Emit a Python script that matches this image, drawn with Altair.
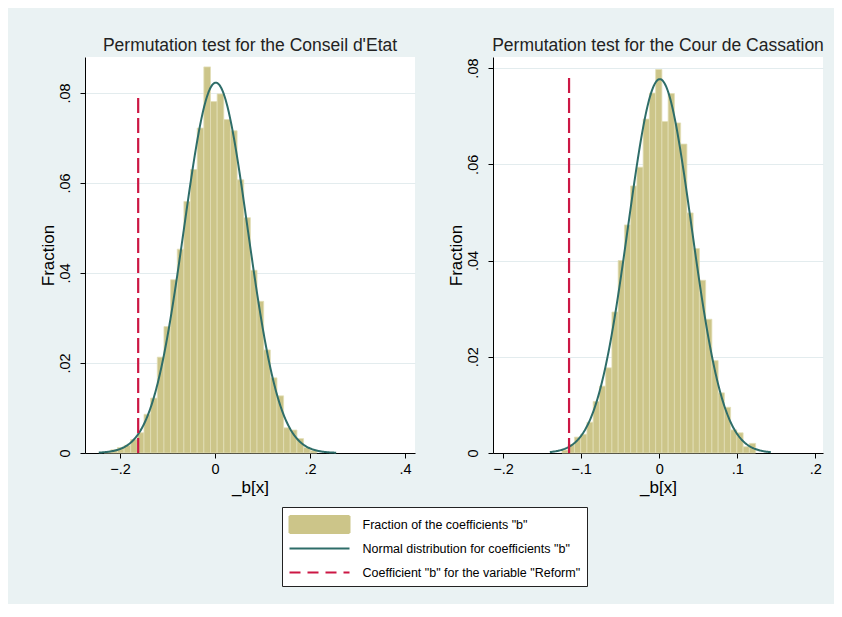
import altair as alt
import pandas as pd

FONT = "Liberation Sans"

# ---------------- data ----------------
LBL_BAR = 'Fraction of the coefficients "b"'
LBL_CURVE = 'Normal distribution for coefficients "b"'
LBL_REF = 'Coefficient "b" for the variable "Reform"'

# Left panel: Conseil d'Etat
ce_title = "Permutation test for the Conseil d'Etat"
ce_bin_start = -0.2337
ce_bin_width = 0.0140
ce_fraction = [0.0002, 0.0007, 0.0012, 0.0017, 0.0030, 0.0045, 0.0086, 0.0122,
               0.0213, 0.0281, 0.0385, 0.0453, 0.0559, 0.0630, 0.0722, 0.0858,
               0.0781, 0.0798, 0.0741, 0.0716, 0.0607, 0.0523, 0.0406, 0.0337,
               0.0229, 0.0167, 0.0127, 0.0056, 0.0051, 0.0032, 0.0012, 0.0005]
ce_normal_mean = 0.0015
ce_normal_sd = 0.067
ce_normal_peak = 0.0823
ce_curve_range = [-0.245, 0.255]
ce_reform_b = -0.162
ce_reform_top = 0.080
ce_x_domain = [-0.274, 0.421]
ce_y_domain = [0, 0.088]
ce_x_ticks = [-0.2, 0, 0.2, 0.4]

# Right panel: Cour de Cassation
cc_title = "Permutation test for the Cour de Cassation"
cc_bin_start = -0.1245
cc_bin_width = 0.0080
cc_fraction = [0.0006, 0.0018, 0.0033, 0.0039, 0.0064, 0.0107, 0.0139, 0.0177,
               0.0293, 0.0400, 0.0474, 0.0555, 0.0594, 0.0694, 0.0748, 0.0797,
               0.0689, 0.0747, 0.0686, 0.0642, 0.0499, 0.0425, 0.0359, 0.0278,
               0.0192, 0.0125, 0.0095, 0.0048, 0.0042, 0.0013, 0.0020]
cc_normal_mean = 0.0008
cc_normal_sd = 0.0406
cc_normal_peak = 0.0777
cc_curve_range = [-0.140, 0.1435]
cc_reform_b = -0.1154
cc_reform_top = 0.079
cc_x_domain = [-0.2128, 0.2098]
cc_y_domain = [0, 0.0823]
cc_x_ticks = [-0.2, -0.1, 0, 0.1, 0.2]

y_ticks = [0, 0.02, 0.04, 0.06, 0.08]

# ---------------- styling ----------------
BAR_COLOR = "#CCC589"
BAR_EDGE = "#E2DEB6"
CURVE_COLOR = "#2E6D69"
REF_COLOR = "#CC1744"
BG = "#EAF2F3"

PAD_L, PAD_T, PAD_R, PAD_B = 31, 28, 10, 17

color_scale = alt.Scale(domain=[LBL_BAR, LBL_CURVE, LBL_REF],
                        range=[BAR_COLOR, CURVE_COLOR, REF_COLOR])

legend = alt.Legend(
    title=None, orient="none", legendX=197, legendY=450,
    direction="vertical", fillColor="white", strokeColor="#222222",
    padding=6.5,
    symbolType=alt.ExprRef(expr="datum.index === 0 ? 'M-3,-0.85H3V0.85H-3Z' : 'M-3,0H3'"),
    symbolSize=400,
    symbolFillColor=alt.ExprRef(expr="datum.index === 0 ? scale('color', datum.value) : 'transparent'"),
    symbolStrokeColor=alt.ExprRef(expr="scale('color', datum.value)"),
    symbolDash=alt.ExprRef(expr="datum.index === 2 ? [11, 7] : [1, 0]"),
    symbolStrokeWidth=2, symbolOpacity=1,
    symbolOffset=20, labelOffset=32, labelFont=FONT, labelFontSize=12.5,
    labelColor="black", labelLimit=400, rowPadding=0, gridAlign="all",
)

label_expr = "replace(format(datum.value, '.2~f'), '0.', '.')"


def panel(title, start, width, fractions, mean, sd, peak, crange,
          ref_b, ref_top, xdom, ydom, xticks):
    n = len(fractions)
    bars_df = pd.DataFrame({
        "start": [start + i * width for i in range(n)],
        "end": [start + (i + 1) * width for i in range(n)],
        "fraction": fractions,
        "base": [0.0] * n,
        "series": [LBL_BAR] * n,
    })
    ref_df = pd.DataFrame({"b": [ref_b], "y0": [0.0], "y1": [ref_top],
                           "series": [LBL_REF]})

    xs = alt.Scale(domain=xdom, nice=False, zero=False)
    ys = alt.Scale(domain=ydom, nice=False, zero=False)
    xaxis = alt.Axis(values=xticks, labelExpr=label_expr, grid=False,
                     tickSize=5, tickColor="black", domainColor="black",
                     labelFont=FONT, labelFontSize=14.5, labelColor="black",
                     labelPadding=4, labelFlush=False, labelOverlap=False,
                     titleFont=FONT, titleFontSize=17, titleColor="black",
                     titleFontWeight="normal", titlePadding=4)
    yaxis = alt.Axis(values=y_ticks, labelExpr=label_expr, grid=True,
                     gridColor="#E3ECEE", gridWidth=1,
                     tickSize=5, tickColor="black", domainColor="black",
                     labelFont=FONT, labelFontSize=14.5, labelColor="black",
                     labelAngle=270, labelPadding=7.5, labelFlush=False,
                     labelOverlap=False,
                     titleFont=FONT, titleFontSize=17, titleColor="black",
                     titleFontWeight="normal", titlePadding=0)

    bars = alt.Chart(bars_df).mark_bar(stroke=BAR_EDGE, strokeWidth=0.8).encode(
        x=alt.X("start:Q", scale=xs, axis=xaxis, title="_b[x]"),
        x2="end:Q",
        y=alt.Y("fraction:Q", scale=ys, axis=yaxis, title="Fraction"),
        y2="base:Q",
        color=alt.Color("series:N", scale=color_scale, legend=legend),
    )

    curve = alt.Chart(alt.sequence(crange[0], crange[1] + 1e-9, 0.001, as_="b")
                      ).transform_calculate(
        fraction=f"{peak} * exp(-pow(datum.b - ({mean}), 2) / (2 * {sd} * {sd}))",
        series=f"'{LBL_CURVE}'",
    ).mark_line(strokeWidth=2).encode(
        x=alt.X("b:Q", scale=xs),
        y=alt.Y("fraction:Q", scale=ys),
        color=alt.Color("series:N", scale=color_scale, legend=legend),
    )

    ref = alt.Chart(ref_df).mark_rule(strokeWidth=2.2, strokeDash=[15, 5]).encode(
        x=alt.X("b:Q", scale=xs),
        y=alt.Y("y0:Q", scale=ys),
        y2="y1:Q",
        color=alt.Color("series:N", scale=color_scale, legend=legend),
    )

    return alt.layer(bars, curve, ref).properties(
        width=330, height=396,
        title=alt.TitleParams(text=title, font=FONT, fontSize=17.5,
                              fontWeight="normal", color="#222222",
                              anchor="middle", offset=3),
    )


left = panel(ce_title, ce_bin_start, ce_bin_width, ce_fraction, ce_normal_mean,
             ce_normal_sd, ce_normal_peak, ce_curve_range, ce_reform_b,
             ce_reform_top, ce_x_domain, ce_y_domain, ce_x_ticks)
right = panel(cc_title, cc_bin_start, cc_bin_width, cc_fraction, cc_normal_mean,
              cc_normal_sd, cc_normal_peak, cc_curve_range, cc_reform_b,
              cc_reform_top, cc_x_domain, cc_y_domain, cc_x_ticks)

chart = alt.hconcat(left, right, spacing=32).properties(
    background=BG,
    padding={"left": PAD_L, "top": PAD_T, "right": PAD_R, "bottom": PAD_B},
).configure_view(fill="white", stroke=None)

chart.save("out.html", embed_options={"renderer": "svg", "actions": False})
